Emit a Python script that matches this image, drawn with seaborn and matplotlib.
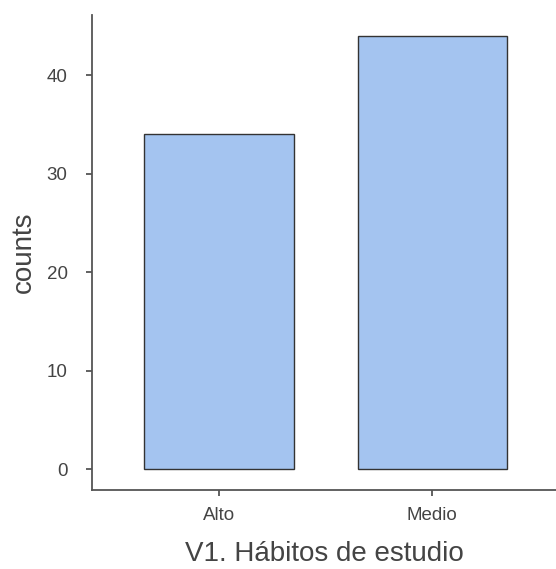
import matplotlib
matplotlib.use("Agg")
import matplotlib.pyplot as plt
import seaborn as sns
import pandas as pd

categories = ["Alto", "Medio"]
counts = [34, 44]
y_ticks = [0, 10, 20, 30, 40]

sns.set_style("white")
plt.rcParams['font.family'] = ['Liberation Sans', 'DejaVu Sans']

df = pd.DataFrame({"cat": categories, "counts": counts})

fig = plt.figure(figsize=(5.56, 5.69), dpi=100)
ax = fig.add_axes([92/556, 79/569, 1 - 92/556, (490-15)/569])
sns.barplot(data=df, x="cat", y="counts", color="#a4c4f0", saturation=1,
            width=0.7, edgecolor="#333333", linewidth=1.0, ax=ax)

ax.set_xlim(-0.596, 1.58)
ax.set_ylim(-2.1, 46.1)
ax.set_yticks(y_ticks)
ax.set_yticklabels([str(t) for t in y_ticks])
for s in ["top", "right"]:
    ax.spines[s].set_visible(False)
for s in ["left", "bottom"]:
    ax.spines[s].set_color("#555555")
    ax.spines[s].set_linewidth(1.3)
ax.tick_params(axis="both", length=4.5, width=1.3, color="#555555",
               labelcolor="#444444", labelsize=13.5, left=True, bottom=True)
ax.tick_params(axis="y", pad=13)
ax.tick_params(axis="x", pad=8)
ax.set_xlabel("V1. Hábitos de estudio", fontsize=20, color="#444444", labelpad=12)
ax.set_ylabel("counts", fontsize=20, color="#444444", labelpad=7)

fig.savefig("out.png", dpi=100)
